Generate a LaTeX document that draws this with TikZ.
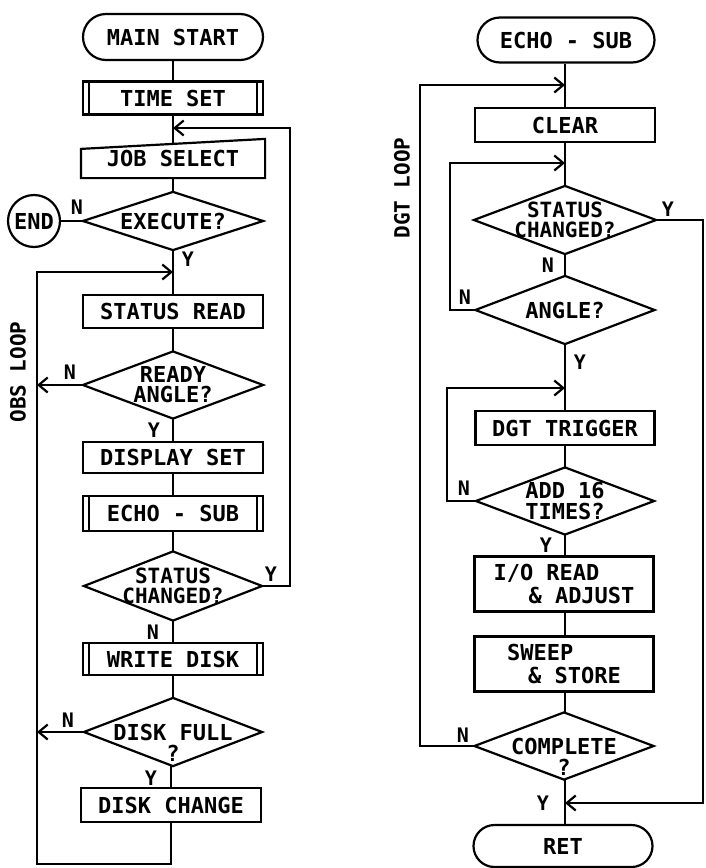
\documentclass[tikz,border=0pt]{standalone}
\usepackage{fontspec}
\newfontfamily\plotfont{DejaVu Sans Mono Bold}
\usetikzlibrary{shapes.misc,arrows.meta}
\begin{document}
\begin{tikzpicture}[x=1pt,y=-1pt,line width=2.2pt,
  every node/.style={font=\plotfont\fontsize{22}{21}\selectfont,inner sep=0pt},
  proc/.style={draw,rectangle,minimum width=180pt,minimum height=34pt,align=center},
  subr/.style={proc,path picture={
    \draw ([xshift=6pt]path picture bounding box.north west) -- ([xshift=6pt]path picture bounding box.south west)
          ([xshift=-6pt]path picture bounding box.north east) -- ([xshift=-6pt]path picture bounding box.south east);}},
  term/.style={draw,rounded rectangle,minimum width=180pt,minimum height=46pt},
  dia/.style={minimum width=178pt,minimum height=66pt,align=center},
  twol/.style={font=\plotfont\fontsize{21}{20}\selectfont},
  lbl/.style={font=\plotfont\fontsize{20}{20}\selectfont},
  looplbl/.style={font=\plotfont\fontsize{21}{21}\selectfont,rotate=90},
  arr/.style={-{Straight Barb[length=9pt,width=15pt]}},
]
\useasboundingbox (0,0) rectangle (706,868);

% ---------------- left column ----------------
\node[term] (start) at (173,37) {MAIN START};
\node[subr,minimum height=33pt] (tset) at (173,98) {TIME SET};
\coordinate (c1) at (173,128);
\node[proc,draw=none,minimum width=182pt,minimum height=37pt] (job) at (173,158.5) {JOB SELECT};
\node[dia,minimum height=56pt] (exe) at (173,221) {EXECUTE?};
\node[draw,circle,minimum size=52pt] (endc) at (34,221) {END};
\coordinate (c2) at (173,272);
\node[proc,minimum height=33pt] (sread) at (173,311.5) {STATUS READ};
\node[dia,minimum height=65pt,font=\plotfont\fontsize{22}{20}\selectfont] (ready) at (173,385) {READY\\ANGLE?};
\node[proc,minimum height=31pt] (disp) at (173,457.5) {DISPLAY SET};
\node[subr,minimum height=35pt] (esubl) at (173,513.5) {ECHO - SUB};
\node[dia,twol,minimum width=176pt,minimum height=67pt] (sc1) at (173,586) {STATUS\\CHANGED?};
\node[subr,minimum height=32pt] (wdisk) at (173,659) {WRITE DISK};
\node[dia,minimum width=176pt] (full) at (173,732) {DISK FULL};
\node (fullq) at (173,753) {?};
\node[proc] (dchg) at (171,805) {DISK CHANGE};
\coordinate (obsL) at (37,864);
\coordinate (rl) at (290,0);

\draw (job.south west) -- ([yshift=-10pt]job.north west) -- (job.north east) -- (job.south east) -- cycle;

\draw (start.south) -- (tset.north);
\draw (tset.south) -- ([yshift=-5pt]job.north);
\draw (job.south) -- (exe.north);
\draw (exe.west) -- (endc.east);
\draw (exe.south) -- (sread.north);
\draw (sread.south) -- (ready.north);
\draw (ready.south) -- (disp.north);
\draw (disp.south) -- (esubl.north);
\draw (esubl.south) -- (sc1.north);
\draw (sc1.south) -- (wdisk.north);
\draw (wdisk.south) -- (full.north);
\draw (full.south) -- (dchg.north |- full.south) -- (dchg.north);
\draw[arr] (dchg.south) |- (obsL) |- (c2);
\draw[arr] (ready.west) -- (ready.west -| obsL);
\draw[arr] (full.west) -- (full.west -| obsL);
\draw[arr] (sc1.east) -- (sc1.east -| rl) |- (c1);

\node[lbl] (nend) at (77,207) {N};
\node[lbl] (yexe) at (188,259) {Y};
\node[lbl] (nready) at (70,372) {N};
\node[lbl] (yready) at (154,430) {Y};
\node[lbl] (ysc1) at (271,574) {Y};
\node[lbl] (nsc1) at (153,632) {N};
\node[lbl] (nfull) at (68,720) {N};
\node[lbl] (yfull) at (151,778) {Y};
\node[looplbl] (obs) at (18,372) {OBS LOOP};

% ---------------- right column ----------------
\node[term,minimum width=177pt,minimum height=45pt] (esub) at (566,40) {ECHO - SUB};
\coordinate (d1) at (565,85);
\node[proc] (clear) at (565,125) {CLEAR};
\coordinate (d2) at (565,163);
\node[dia,twol,minimum width=180pt] (sc2) at (565,220) {STATUS\\CHANGED?};
\node[dia,minimum width=177pt] (angle) at (565,310) {ANGLE?};
\coordinate (d3) at (565,388);
\node[proc,minimum width=179pt] (trig) at (565,428) {DGT TRIGGER};
\node[dia,minimum width=176pt,minimum height=65pt] (add16) at (565,501) {ADD 16\\TIMES?};
\node[proc,minimum width=179pt,minimum height=55pt,align=left,font=\plotfont\fontsize{22}{23}\selectfont] (io) at (564,584) {I/O READ\\\hspace*{35pt}\& ADJUST};
\node[proc,minimum width=179pt,minimum height=55pt,align=left,font=\plotfont\fontsize{22}{23}\selectfont] (sweep) at (564,664) {SWEEP\\\hspace*{21pt}\& STORE};
\node[dia,minimum width=177pt,minimum height=65pt] (comp) at (564,746) {COMPLETE};
\node (compq) at (564,767) {?};
\coordinate (d4) at (565,803);
\node[term,minimum width=179pt,minimum height=42pt] (ret) at (563,846) {RET};
\coordinate (dgtL) at (420,0);
\coordinate (in1) at (450,0);
\coordinate (in2) at (447,0);
\coordinate (rR) at (703,0);

\draw (esub.south -| d1) -- (clear.north -| d1);
\draw (clear.south) -- (sc2.north);
\draw (sc2.south) -- (angle.north);
\draw (angle.south) -- (trig.north);
\draw (trig.south) -- (add16.north);
\draw (add16.south) -- (io.north -| add16.south);
\draw (io.south -| add16.south) -- (sweep.north -| add16.south);
\draw (sweep.south -| add16.south) -- (comp.north -| add16.south);
\draw (comp.south -| d4) -- (ret.north -| d4);
\draw[arr] (comp.west) -- (comp.west -| dgtL) |- (d1);
\draw[arr] (angle.west) -- (angle.west -| in1) |- (d2);
\draw[arr] (add16.west) -- (add16.west -| in2) |- (d3);
\draw[arr] (sc2.east) -- (sc2.east -| rR) |- (d4);

\node[lbl] (ysc2) at (668,209) {Y};
\node[lbl] (nsc2) at (548,265) {N};
\node[lbl] (nangle) at (465,297) {N};
\node[lbl] (yangle) at (580,362) {Y};
\node[lbl] (nadd) at (464,488) {N};
\node[lbl] (yadd) at (546,545) {Y};
\node[lbl] (ncomp) at (463,735) {N};
\node[lbl] (ycomp) at (543,803) {Y};
\node[looplbl] (dgt) at (402,188) {DGT LOOP};

\foreach \n in {exe,ready,sc1,full,sc2,angle,add16,comp}
  \draw (\n.north) -- (\n.east) -- (\n.south) -- (\n.west) -- cycle;
\end{tikzpicture}
\end{document}
